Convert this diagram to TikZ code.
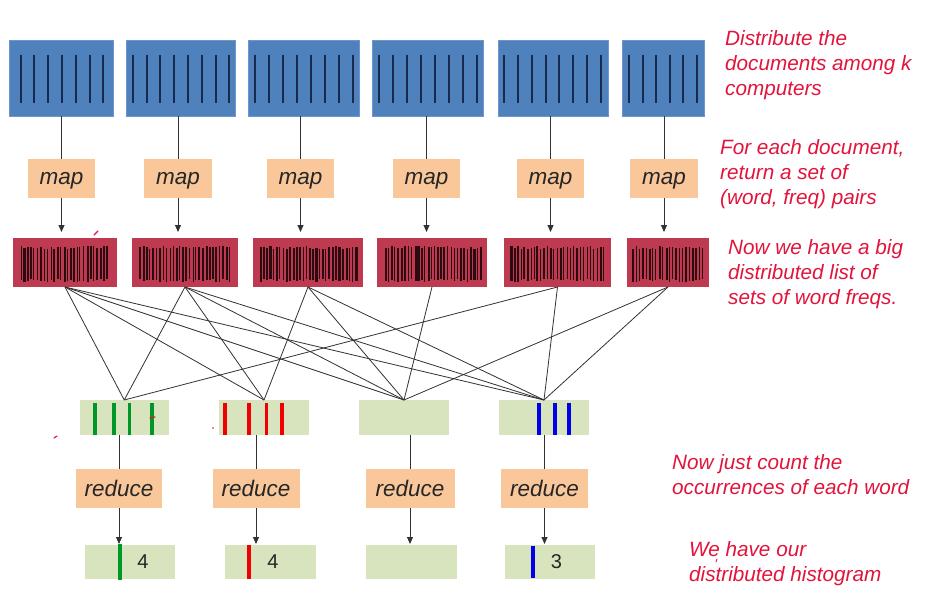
\documentclass[tikz,border=0pt]{standalone}
\usepackage{fontspec}
\setmainfont{Liberation Sans}
\usetikzlibrary{arrows.meta}
\definecolor{docblue}{RGB}{79,129,189}
\definecolor{docedge}{RGB}{110,150,205}
\definecolor{docline}{RGB}{25,42,80}
\definecolor{mapfill}{RGB}{249,199,154}
\definecolor{redbox}{RGB}{190,58,80}
\definecolor{barc}{RGB}{45,10,15}
\definecolor{grfill}{RGB}{215,228,189}
\definecolor{notered}{RGB}{226,20,60}
\definecolor{bargreen}{RGB}{0,150,40}
\definecolor{barred}{RGB}{240,0,0}
\definecolor{barblue}{RGB}{0,0,235}
\definecolor{linegray}{RGB}{50,50,50}
\tikzset{
 docbox/.style={fill=docblue, draw=docedge, line width=0.8pt, inner sep=0pt, outer sep=0pt, minimum height=76pt},
 docl/.style={draw=docline, line width=2pt},
 mapbox/.style={fill=mapfill, inner sep=0pt, outer sep=0pt, minimum height=39pt, font=\fontsize{22.5}{27}\selectfont\itshape, text=black!85},
 setbox/.style={fill=redbox, inner sep=0pt, outer sep=0pt, minimum height=49pt},
 grbox/.style={fill=grfill, inner sep=0pt, outer sep=0pt},
 conn/.style={draw=linegray, line width=0.9pt},
 arr/.style={conn, -{Triangle[length=7pt,width=6pt]}},
 fan/.style={draw=linegray, line width=0.8pt},
 note/.style={text=notered, font=\fontsize{20.7}{25}\selectfont\itshape, align=left, anchor=north west, inner sep=0pt},
 cnt/.style={font=\fontsize{20}{24}\selectfont, text=black!85, inner sep=0pt},
 hbar/.style={line width=3.8pt},
 scribble/.style={draw=notered, line width=1.2pt, line cap=round},
}
\newcommand\mybarcode[2]{%
  \pgfmathsetmacro\nbars{int((#2-#1)/3.3)}%
  \foreach \k in {0,...,\nbars}{%
    \pgfmathsetmacro\xx{#1+\k*3.3+rnd*0.9}%
    \pgfmathsetmacro\ww{0.7+rnd*1.7}%
    \pgfmathsetmacro\ya{246+rnd*3}%
    \pgfmathsetmacro\yb{279+rnd*3}%
    \fill[barc] (\xx,\ya) rectangle (\xx+\ww,\yb);
  }%
}
\begin{document}
\begin{tikzpicture}[x=1pt,y=-1pt]
\useasboundingbox[fill=white] (0,0) rectangle (925,594);
\pgfmathsetseed{7}
% documents
\node[docbox, minimum width=104pt] (d1) at (61,78) {};
\node[docbox, minimum width=109pt] (d2) at (180.5,78) {};
\node[docbox, minimum width=111pt] (d3) at (303.5,78) {};
\node[docbox, minimum width=111pt] (d4) at (427.5,78) {};
\node[docbox, minimum width=110pt] (d5) at (553,78) {};
\node[docbox, minimum width=82pt] (d6) at (663,78) {};
\foreach \xa/\xb/\n in {20.7/103.3/7, 132.7/229.3/8, 255/352.7/8, 379/477/8, 504/601/8, 629/697/6}{
  \pgfmathsetmacro\dx{(\xb-\xa)/(\n-1)}
  \foreach \i in {1,...,\n}{\draw[docl] ({\xa+(\i-1)*\dx},55) -- ++(0,48);}
}
% map boxes
\node[mapbox, text depth=0pt, minimum width=67pt] (m1) at (61.5,178.5) {map};
\node[mapbox, text depth=0pt, minimum width=68pt] (m2) at (178,178.5) {map};
\node[mapbox, text depth=0pt, minimum width=67pt] (m3) at (300.5,178.5) {map};
\node[mapbox, text depth=0pt, minimum width=67pt] (m4) at (426.5,178.5) {map};
\node[mapbox, text depth=0pt, minimum width=67pt] (m5) at (550.5,178.5) {map};
\node[mapbox, text depth=0pt, minimum width=68pt] (m6) at (664,178.5) {map};
% word-frequency sets
\node[setbox, minimum width=104pt] (r1) at (65,262.5) {};
\node[setbox, minimum width=106pt] (r2) at (185,262.5) {};
\node[setbox, minimum width=110pt] (r3) at (308,262.5) {};
\node[setbox, minimum width=110pt] (r4) at (432,262.5) {};
\node[setbox, minimum width=107pt] (r5) at (557.5,262.5) {};
\node[setbox, minimum width=82pt] (r6) at (668,262.5) {};
\mybarcode{20}{109}
\mybarcode{139}{231}
\mybarcode{259}{356}
\mybarcode{384}{481}
\mybarcode{510}{605}
\mybarcode{632}{702}
% connectors doc -> map -> set
\foreach \i in {1,...,6}{
  \draw[conn] (m\i.north |- d\i.south) -- (m\i.north);
  \draw[arr, shorten >=6pt] (m\i.south) -- (m\i.south |- r\i.north);
}
% grouped sets
\node[grbox, minimum width=89.5pt, minimum height=35pt] (g1) at (124.25,417.5) {};
\node[grbox, minimum width=90pt, minimum height=35pt] (g2) at (264,417.5) {};
\node[grbox, minimum width=90pt, minimum height=35pt] (g3) at (404,417.5) {};
\node[grbox, minimum width=90pt, minimum height=35pt] (g4) at (544,417.5) {};
\foreach \x in {95,114,129.5,152}{\draw[hbar, draw=bargreen] (\x,403) -- (\x,435);}
\foreach \x in {225,249,266.5,282}{\draw[hbar, draw=barred] (\x,403) -- (\x,435);}
\foreach \x in {539,555,569}{\draw[hbar, draw=barblue] (\x,403) -- (\x,435);}
% shuffle
\foreach \s/\t in {1/1,1/2,1/3,1/4,2/1,2/2,2/3,2/4,3/2,3/3,3/4,4/3,5/1,5/4,6/3,6/4}{
  \draw[fan] (r\s.south) -- (g\t.north);
}
% reduce boxes
\node[mapbox, minimum width=86pt] (rd1) at (119,488.5) {reduce};
\node[mapbox, minimum width=87pt] (rd2) at (256,488.5) {reduce};
\node[mapbox, minimum width=89pt] (rd3) at (410,488.5) {reduce};
\node[mapbox, minimum width=87pt] (rd4) at (544.5,488.5) {reduce};
% results
\node[grbox, minimum width=90pt, minimum height=34pt] (b1) at (130,562) {};
\node[grbox, minimum width=91pt, minimum height=34pt] (b2) at (270.5,562) {};
\node[grbox, minimum width=91pt, minimum height=34pt] (b3) at (411,562) {};
\node[grbox, minimum width=90pt, minimum height=34pt] (b4) at (550,562) {};
\foreach \i in {1,...,4}{
  \draw[conn] (rd\i.north |- g\i.south) -- (rd\i.north);
  \draw[arr, shorten >=1pt] (rd\i.south) -- (rd\i.south |- b\i.north);
}
\draw[line width=3.5pt, draw=bargreen] (120,544) -- (120,580);
\draw[line width=3.5pt, draw=barred] (249,545) -- (249,579);
\draw[line width=3.5pt, draw=barblue] (533,546) -- (533,578);
\node[cnt] (n1) at (143,562) {4};
\node[cnt] (n2) at (273,562) {4};
\node[cnt] (n3) at (556.5,562) {3};
% notes
\node[note] (t1) at (725,30) {Distribute the\\documents among k\\computers};
\node[note] (t2) at (720,139) {For each document,\\return a set of\\(word, freq) pairs};
\node[note] (t3) at (728,239) {Now we have a big\\distributed list of\\sets of word freqs.};
\node[note] (t4) at (672,454) {Now just count the\\occurrences of each word};
\node[note] (t5) at (689,541) {We have our\\distributed histogram};
% pen marks
\draw[scribble] (94,235) -- (98,231);
\draw[scribble] (150,418) -- (155,417);
\draw[scribble] (54,438) -- (57,436);
\fill[notered] (213,428) circle (0.9pt);
\draw[scribble, line width=0.9pt] (717,559) -- (716,562);
\end{tikzpicture}
\end{document}
